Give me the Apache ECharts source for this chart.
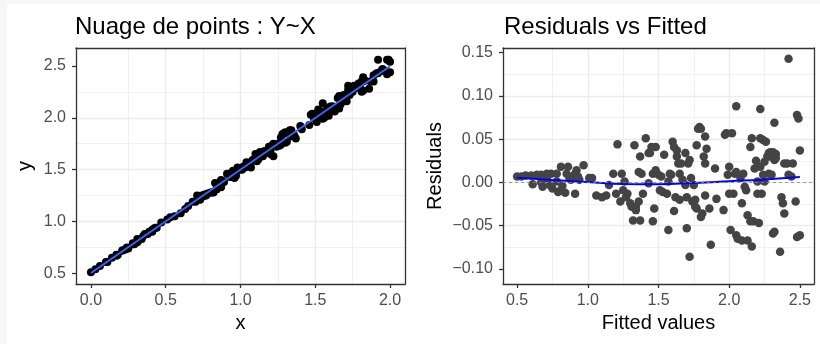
<!DOCTYPE html>
<html>
<head>
<meta charset="utf-8">
<script src="https://cdn.jsdelivr.net/npm/echarts@6/dist/echarts.min.js"></script>
<style>
  html, body { margin: 0; padding: 0; background: #f7f7f7; }
  #chart { position: absolute; left: 7px; top: 4px; width: 813px; height: 340px; background: #fff; }
</style>
</head>
<body>
<div id="chart"></div>
<script>
// nuage de points (panneau gauche)
const xVals = [0.00,0.03,0.06,0.10,0.14,0.17,0.21,0.24,0.28,0.21,0.17,0.11,0.18,0.23,0.25,0.29,0.28,0.31,0.34,0.32,0.31,0.36,0.38,0.39,0.41,0.42,0.43,0.44,0.47,0.41,0.37,0.35,
  0.51,0.53,0.56,0.60,0.63,0.65,0.68,0.70,0.71,0.73,0.74,0.75,0.76,0.77,0.78,0.80,0.81,0.82,0.83,0.84,0.86,0.87,0.86,0.84,0.87,0.88,0.89,0.91,0.93,0.93,0.94,0.95,0.96,0.96,0.97,0.98,0.98,
  1.00,1.01,1.02,1.03,1.04,1.06,1.07,1.07,1.08,1.09,1.10,1.11,1.11,1.12,1.13,1.13,1.14,1.15,1.15,1.16,1.17,1.19,1.19,1.20,1.20,1.21,1.22,1.22,1.23,1.24,1.25,1.26,1.26,1.27,1.27,1.28,1.29,1.30,1.30,1.31,1.32,1.33,1.33,1.34,1.33,1.36,1.37,1.40,1.41,1.46,1.47,1.48,1.49,
  1.50,1.50,1.51,1.52,1.53,1.54,1.55,1.55,1.56,1.58,1.59,1.59,1.60,1.61,1.62,1.63,1.63,1.65,1.65,1.66,1.66,1.67,1.68,1.69,1.70,1.70,1.71,1.72,1.72,1.73,1.74,1.74,1.75,1.75,1.76,1.77,1.78,1.78,1.79,1.79,1.80,1.81,1.81,1.82,1.82,1.83,1.83,1.86,1.87,1.88,1.89,1.89,1.91,1.92,1.92,1.94,1.95,1.97,1.98,1.98,1.99,2.00,2.00,1.55,1.72,1.82];
const yVals = [0.51,0.54,0.57,0.61,0.65,0.68,0.72,0.75,0.79,0.72,0.67,0.61,0.68,0.73,0.74,0.78,0.78,0.80,0.83,0.82,0.83,0.88,0.88,0.90,0.92,0.93,0.94,0.94,0.99,0.90,0.88,0.86,
  1.02,1.04,1.05,1.08,1.12,1.15,1.19,1.19,1.25,1.21,1.25,1.24,1.26,1.25,1.27,1.28,1.28,1.28,1.37,1.31,1.34,1.33,1.37,1.31,1.40,1.39,1.38,1.46,1.43,1.46,1.47,1.49,1.42,1.47,1.44,1.49,1.52,
  1.51,1.50,1.53,1.52,1.57,1.55,1.57,1.52,1.59,1.60,1.65,1.65,1.58,1.60,1.67,1.66,1.66,1.66,1.63,1.68,1.67,1.69,1.72,1.65,1.68,1.73,1.63,1.75,1.74,1.72,1.75,1.74,1.73,1.74,1.81,1.84,1.85,1.86,1.76,1.77,1.85,1.85,1.88,1.88,1.82,1.83,1.80,1.92,1.89,1.93,2.03,2.04,2.00,
  2.02,1.99,1.96,2.08,2.02,2.05,1.99,2.06,2.00,2.09,2.02,2.07,2.11,2.11,2.11,2.09,2.06,2.11,2.19,2.09,2.21,2.13,2.20,2.22,2.20,2.19,2.16,2.27,2.24,2.22,2.25,2.29,2.27,2.25,2.31,2.30,2.31,2.29,2.33,2.32,2.31,2.25,2.35,2.26,2.35,2.36,2.36,2.28,2.35,2.36,2.35,2.41,2.43,2.43,2.56,2.45,2.47,2.45,2.56,2.42,2.56,2.54,2.44,2.14,2.31,2.39];
const lmX = [0.00, 2.00];
const lmY = [0.503, 2.497];

// résidus (panneau droit)
const fittedVals = [0.50,0.53,0.56,0.60,0.64,0.67,0.71,0.74,0.78,0.71,0.67,0.61,0.68,0.73,0.75,0.79,0.78,0.81,0.84,0.82,0.81,0.86,0.88,0.89,0.91,0.92,0.93,0.94,0.97,0.91,0.87,0.85,
  1.01,1.03,1.06,1.10,1.13,1.15,1.18,1.20,1.21,1.23,1.24,1.25,1.26,1.27,1.28,1.30,1.31,1.32,1.33,1.34,1.36,1.37,1.36,1.34,1.37,1.38,1.39,1.41,1.43,1.43,1.44,1.45,1.46,1.46,1.47,1.48,1.48,
  1.50,1.51,1.52,1.53,1.54,1.56,1.57,1.57,1.58,1.59,1.60,1.61,1.61,1.62,1.63,1.63,1.64,1.65,1.65,1.66,1.67,1.69,1.69,1.70,1.70,1.71,1.72,1.72,1.73,1.74,1.75,1.76,1.76,1.77,1.77,1.78,1.79,1.80,1.80,1.81,1.82,1.83,1.83,1.84,1.83,1.86,1.87,1.90,1.91,1.96,1.97,1.98,1.99,
  2.00,2.00,2.01,2.02,2.03,2.04,2.05,2.05,2.06,2.08,2.09,2.09,2.10,2.11,2.12,2.13,2.13,2.15,2.15,2.16,2.16,2.17,2.18,2.19,2.20,2.20,2.21,2.22,2.22,2.23,2.24,2.24,2.25,2.25,2.26,2.27,2.28,2.28,2.29,2.29,2.30,2.31,2.31,2.32,2.32,2.33,2.33,2.36,2.37,2.38,2.39,2.39,2.41,2.42,2.42,2.44,2.45,2.47,2.48,2.48,2.49,2.50,2.50,2.05,2.22,2.32];
const residVals = [0.007,0.007,0.008,0.008,0.009,0.009,0.010,0.010,0.010,0.005,0.000,-0.002,-0.005,-0.003,-0.007,-0.011,0.001,-0.009,-0.012,-0.004,0.018,0.018,0.003,0.007,0.010,0.014,0.007,0.003,0.020,-0.013,0.005,0.010,
  0.005,0.005,-0.015,-0.017,-0.015,-0.003,0.010,-0.013,0.044,-0.022,0.010,-0.009,0.001,-0.017,-0.013,-0.024,-0.028,-0.044,0.043,-0.028,-0.022,-0.044,0.012,-0.032,0.030,0.010,-0.013,0.051,-0.001,0.034,0.034,0.041,-0.045,0.010,-0.030,0.014,0.041,
  0.009,-0.009,0.007,-0.011,0.032,-0.013,0.001,-0.055,0.010,0.009,0.047,0.041,-0.033,-0.017,0.037,0.030,0.022,0.010,-0.020,0.022,0.003,-0.003,0.034,-0.053,-0.017,0.022,-0.086,0.026,0.005,-0.022,-0.003,-0.020,-0.028,-0.030,0.043,0.062,0.064,0.062,-0.040,-0.036,0.030,0.022,0.053,0.039,-0.015,-0.030,-0.072,0.016,-0.019,-0.032,0.055,0.057,0.009,
  0.018,-0.013,-0.055,0.057,-0.013,0.010,-0.061,0.012,-0.065,0.005,-0.067,-0.024,0.010,-0.005,-0.009,-0.038,-0.067,-0.045,0.041,-0.074,0.051,-0.045,0.016,0.025,0.001,-0.013,-0.047,0.051,0.018,-0.013,0.009,0.049,0.024,0.001,0.047,0.030,0.034,0.010,0.035,0.030,0.009,-0.059,0.035,-0.057,0.026,0.033,0.028,-0.080,-0.017,-0.024,-0.036,0.022,0.022,0.009,0.143,0.007,0.022,-0.022,0.078,-0.063,0.074,0.037,-0.061,0.088,0.085,0.069];
const loessX = [0.50, 0.75, 1.00, 1.25, 1.50, 1.75, 2.00, 2.25, 2.50];
const loessY = [0.0054, 0.0028, 0.0005, -0.0018, -0.0020, -0.0006, 0.0014, 0.0035, 0.0062];

// graduations
const xTicksLeft = [0, 0.5, 1, 1.5, 2];
const yTicksLeft = [0.5, 1, 1.5, 2, 2.5];
const xTicksRight = [0.5, 1, 1.5, 2, 2.5];
const yTicksRight = [-0.1, -0.05, 0, 0.05, 0.1, 0.15];

const font = "'Liberation Sans', Arial, sans-serif";
const frame = { show: true, onZero: false, lineStyle: { color: "#333", width: 1.3 } };

function makeAxis(gridIndex, min, max, ticks, fmt, name, nameGap, isY) {
  return {
    type: "value",
    gridIndex: gridIndex,
    min: min,
    max: max,
    name: name,
    nameLocation: "middle",
    nameGap: nameGap,
    nameTextStyle: { fontSize: 20, color: "#000", fontFamily: font },
    axisLine: frame,
    axisTick: {
      show: true,
      length: 4,
      customValues: ticks,
      lineStyle: { color: "#333", width: 1.3 },
    },
    axisLabel: {
      customValues: ticks,
      formatter: fmt,
      fontSize: 16,
      color: "#4d4d4d",
      fontFamily: font,
      margin: isY ? 10 : 9,
    },
    splitLine: {
      show: true,
      showMinLine: false,
      showMaxLine: false,
      lineStyle: { color: "#ebebeb", width: 1.4 },
    },
    minorTick: { show: false, splitNumber: 2 },
    minorSplitLine: { show: true, lineStyle: { color: "#ebebeb", width: 0.7 } },
  };
}

// axes opposés, seulement pour fermer le cadre du panneau
function frameAxis(gridIndex, min, max, position) {
  return {
    type: "value",
    gridIndex: gridIndex,
    min: min,
    max: max,
    position: position,
    axisLine: frame,
    axisTick: { show: false },
    axisLabel: { show: false },
    splitLine: { show: false },
    z: 5,
  };
}

const fmt1 = (v) => v.toFixed(1);
const fmt2 = (v) => v.toFixed(2).replace("-", "\u2212");

const options = {
  animation: false,
  title: [
    {
      text: "Nuage de points : Y~X",
      left: 68,
      top: 11,
      padding: 0,
      textStyle: { fontSize: 24, fontWeight: "normal", color: "#000", fontFamily: font },
    },
    {
      text: "Residuals vs Fitted",
      left: 497,
      top: 11,
      padding: 0,
      textStyle: { fontSize: 24, fontWeight: "normal", color: "#000", fontFamily: font },
    },
  ],
  grid: [
    { left: 69, top: 44, width: 329, height: 236, show: true, backgroundColor: "#fff", borderWidth: 0 },
    { left: 496, top: 44, width: 311, height: 236, show: true, backgroundColor: "#fff", borderWidth: 0 },
  ],
  xAxis: [
    makeAxis(0, -0.1, 2.1, xTicksLeft, fmt1, "x", 29, false),
    makeAxis(1, 0.4, 2.6, xTicksRight, fmt1, "Fitted values", 29, false),
    frameAxis(0, -0.1, 2.1, "top"),
    frameAxis(1, 0.4, 2.6, "top"),
  ],
  yAxis: [
    makeAxis(0, 0.397, 2.673, yTicksLeft, fmt1, "y", 41, true),
    makeAxis(1, -0.1174, 0.1554, yTicksRight, fmt2, "Residuals", 58, true),
    frameAxis(0, 0.397, 2.673, "right"),
    frameAxis(1, -0.1174, 0.1554, "right"),
  ],
  series: [
    {
      type: "scatter",
      xAxisIndex: 0,
      yAxisIndex: 0,
      symbolSize: 8,
      itemStyle: { color: "#000", opacity: 1 },
      data: xVals.map((x, i) => [x, yVals[i]]),
    },
    {
      type: "line",
      xAxisIndex: 0,
      yAxisIndex: 0,
      symbol: "none",
      lineStyle: { color: "#3366ff", width: 2 },
      data: lmX.map((x, i) => [x, lmY[i]]),
      z: 3,
    },
    {
      type: "scatter",
      xAxisIndex: 1,
      yAxisIndex: 1,
      symbolSize: 8.5,
      itemStyle: { color: "#444444", opacity: 1 },
      data: fittedVals.map((f, i) => [f, residVals[i]]),
      markLine: {
        silent: true,
        symbol: "none",
        label: { show: false },
        lineStyle: { color: "#888", type: [3, 3], width: 0.8 },
        data: [{ yAxis: 0 }],
      },
    },
    {
      type: "line",
      xAxisIndex: 1,
      yAxisIndex: 1,
      symbol: "none",
      smooth: true,
      lineStyle: { color: "#0000ff", width: 2 },
      data: loessX.map((x, i) => [x, loessY[i]]),
      z: 3,
    },
  ],
};

const chart = echarts.init(document.getElementById("chart"));
chart.setOption(options);
window.addEventListener("resize", () => chart.resize());
</script>
</body>
</html>
